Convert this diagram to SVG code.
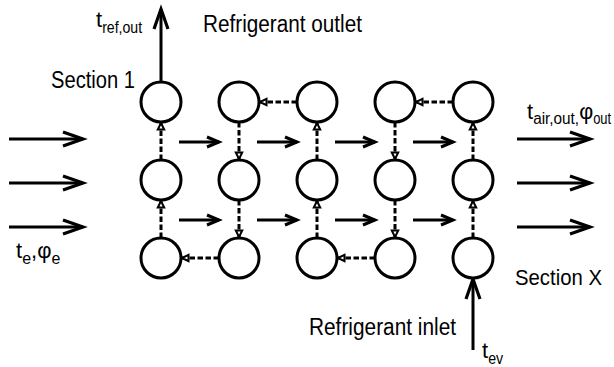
<svg xmlns="http://www.w3.org/2000/svg" width="614" height="367" viewBox="0 0 614 367">
<defs>
<style>
.node{fill:#fff;stroke:#000;stroke-width:3}
.air{stroke:#000;stroke-width:3;fill:none;marker-end:url(#big)}
.flow{stroke:#000;stroke-width:3;fill:none;marker-end:url(#small)}
.ref{stroke:#000;stroke-width:3;fill:none;stroke-dasharray:5.5 2.5;marker-end:url(#dash)}
.pipe{stroke:#000;stroke-width:3;fill:none;marker-end:url(#big)}
text{font-family:"Liberation Sans",Arial,sans-serif;fill:#000}
.lbl{font-size:23.5px}
.t{font-size:22px}
.sub{font-size:16px}
</style>
<marker id="big" markerUnits="userSpaceOnUse" viewBox="-24 -10 28 20" markerWidth="28" markerHeight="20" refX="0" refY="0" orient="auto" overflow="visible">
<path d="M-20,-7 L0,0 L-20,7" fill="none" stroke="#000" stroke-width="3.2" stroke-linejoin="miter"/>
</marker>
<marker id="small" markerUnits="userSpaceOnUse" viewBox="-16 -8 20 16" markerWidth="20" markerHeight="16" refX="0" refY="0" orient="auto" overflow="visible">
<path d="M-12,-5 L0,0 L-12,5" fill="none" stroke="#000" stroke-width="3" stroke-linejoin="miter"/>
</marker>
<marker id="dash" markerUnits="userSpaceOnUse" viewBox="-10 -6 12 12" markerWidth="12" markerHeight="12" refX="0" refY="0" orient="auto" overflow="visible">
<path d="M-1,0 L-7.5,-3.2 L-7.5,3.2 Z" fill="#fff" stroke="#000" stroke-width="2"/>
</marker>
</defs>
<rect width="614" height="367" fill="#fff"/>
<g id="connectors">
<line class="air" x1="9" y1="139" x2="83" y2="139"/>
<line class="air" x1="9" y1="183" x2="83" y2="183"/>
<line class="air" x1="9" y1="227" x2="83" y2="227"/>
<line class="air" x1="517" y1="139" x2="590" y2="139"/>
<line class="air" x1="517" y1="183" x2="590" y2="183"/>
<line class="air" x1="517" y1="227" x2="590" y2="227"/>
<line class="flow" x1="179" y1="142" x2="219" y2="142"/>
<line class="flow" x1="257" y1="142" x2="297" y2="142"/>
<line class="flow" x1="335" y1="142" x2="375" y2="142"/>
<line class="flow" x1="413" y1="142" x2="453" y2="142"/>
<line class="flow" x1="179" y1="220" x2="219" y2="220"/>
<line class="flow" x1="257" y1="220" x2="297" y2="220"/>
<line class="flow" x1="335" y1="220" x2="375" y2="220"/>
<line class="flow" x1="413" y1="220" x2="453" y2="220"/>
<line class="ref" x1="161" y1="238" x2="161" y2="200"/>
<line class="ref" x1="161" y1="160" x2="161" y2="122"/>
<line class="ref" x1="239" y1="122" x2="239" y2="160"/>
<line class="ref" x1="239" y1="200" x2="239" y2="238"/>
<line class="ref" x1="317" y1="238" x2="317" y2="200"/>
<line class="ref" x1="317" y1="160" x2="317" y2="122"/>
<line class="ref" x1="395" y1="122" x2="395" y2="160"/>
<line class="ref" x1="395" y1="200" x2="395" y2="238"/>
<line class="ref" x1="473" y1="238" x2="473" y2="200"/>
<line class="ref" x1="473" y1="160" x2="473" y2="122"/>
<line class="ref" x1="297" y1="102" x2="259" y2="102"/>
<line class="ref" x1="453" y1="102" x2="415" y2="102"/>
<line class="ref" x1="219" y1="258" x2="181" y2="258"/>
<line class="ref" x1="375" y1="258" x2="337" y2="258"/>
<line class="pipe" x1="161" y1="82" x2="161" y2="9"/>
<line class="pipe" x1="473" y1="350" x2="473" y2="279"/>
</g>
<g id="n11"><circle class="node" cx="161" cy="102" r="20"/></g>
<g id="n12"><circle class="node" cx="239" cy="102" r="20"/></g>
<g id="n13"><circle class="node" cx="317" cy="102" r="20"/></g>
<g id="n14"><circle class="node" cx="395" cy="102" r="20"/></g>
<g id="n15"><circle class="node" cx="473" cy="102" r="20"/></g>
<g id="n21"><circle class="node" cx="161" cy="180" r="20"/></g>
<g id="n22"><circle class="node" cx="239" cy="180" r="20"/></g>
<g id="n23"><circle class="node" cx="317" cy="180" r="20"/></g>
<g id="n24"><circle class="node" cx="395" cy="180" r="20"/></g>
<g id="n25"><circle class="node" cx="473" cy="180" r="20"/></g>
<g id="n31"><circle class="node" cx="161" cy="258" r="20"/></g>
<g id="n32"><circle class="node" cx="239" cy="258" r="20"/></g>
<g id="n33"><circle class="node" cx="317" cy="258" r="20"/></g>
<g id="n34"><circle class="node" cx="395" cy="258" r="20"/></g>
<g id="n35"><circle class="node" cx="473" cy="258" r="20"/></g>
<g id="labels">
<text class="lbl" x="203" y="32" textLength="159" lengthAdjust="spacingAndGlyphs">Refrigerant outlet</text>
<text class="lbl" x="51" y="88" textLength="84" lengthAdjust="spacingAndGlyphs">Section 1</text>
<text class="lbl" x="515" y="285" style="font-size:22.5px" textLength="87" lengthAdjust="spacingAndGlyphs">Section X</text>
<text class="lbl" x="309" y="335" textLength="147" lengthAdjust="spacingAndGlyphs">Refrigerant inlet</text>
<text class="t" x="96" y="27">t<tspan class="sub" dy="6" textLength="40" lengthAdjust="spacingAndGlyphs">ref,out</tspan></text>
<text class="t" x="527" y="119">t<tspan class="sub" dy="5" textLength="46" lengthAdjust="spacingAndGlyphs">air,out,</tspan><tspan dy="-5" textLength="14" lengthAdjust="spacingAndGlyphs">φ</tspan><tspan class="sub" dy="5" textLength="18" lengthAdjust="spacingAndGlyphs">out</tspan></text>
<text class="t" x="16" y="258">t<tspan class="sub" dy="6">e</tspan><tspan dy="-6">,φ</tspan><tspan class="sub" dy="6">e</tspan></text>
<text class="t" x="482" y="358">t<tspan class="sub" dy="6" textLength="15" lengthAdjust="spacingAndGlyphs">ev</tspan></text>
</g>
</svg>
